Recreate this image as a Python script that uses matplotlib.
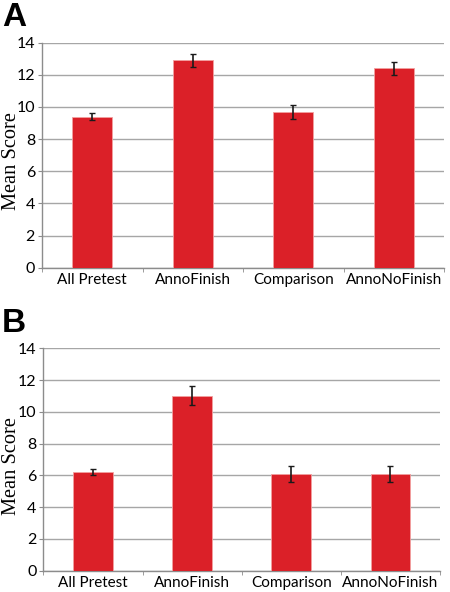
import matplotlib.pyplot as plt
import numpy as np

categories = ["All Pretest", "AnnoFinish", "Comparison", "AnnoNoFinish"]
means_a = [9.4, 12.9, 9.7, 12.4]
errs_a = [0.2, 0.4, 0.45, 0.4]
means_b = [6.2, 11.0, 6.1, 6.1]
errs_b = [0.2, 0.6, 0.5, 0.5]
yticks = [0, 2, 4, 6, 8, 10, 12, 14]

bar_color = "#db2028"
grid_color = "#a6a6a6"
axis_color = "#8c8c8c"

fig = plt.figure(figsize=(4.5, 5.92), dpi=100)


def draw_panel(rect, means, errs, letter, letter_y, ylabel_y):
    ax = fig.add_axes(rect)
    x = np.arange(len(categories))
    ax.bar(x, means, width=0.4, color=bar_color, edgecolor="#f2a0a0",
           linewidth=0.6, zorder=3)
    ax.errorbar(x, means, yerr=errs, fmt="none", ecolor="#1a1a1a",
                elinewidth=1.2, capsize=2.5, capthick=1.0, zorder=4)
    ax.set_xlim(-0.5, len(categories) - 0.5)
    ax.set_ylim(0, 14)
    ax.set_yticks(yticks)
    ax.set_xticks(x)
    ax.set_xticklabels(categories, family="Lato", fontsize=11)
    ax.tick_params(axis="x", length=0, pad=4)
    # boundary ticks under the axis
    ax.set_xticks(np.arange(-0.5, len(categories)), minor=True)
    ax.tick_params(axis="x", which="minor", length=3, color=axis_color)
    ax.tick_params(axis="y", length=3, color=axis_color, pad=2, labelsize=11.5)
    for lab in ax.get_yticklabels():
        lab.set_family("Lato")
    ax.grid(axis="y", color=grid_color, linewidth=1.0, zorder=0)
    for s in ["top", "right"]:
        ax.spines[s].set_visible(False)
    for s in ["left", "bottom"]:
        ax.spines[s].set_color(axis_color)
        ax.spines[s].set_linewidth(1.0)
    fig.text(0.025, ylabel_y, "Mean Score", rotation=90, family="Liberation Serif",
             fontsize=14.7, ha="center", va="center")
    fig.text(0.004, letter_y, letter, family="Liberation Sans", weight="bold",
             fontsize=24, ha="left", va="top")
    return ax


draw_panel([0.0933, 0.5478, 0.8937, 0.3801], means_a, errs_a, "A", 0.997, 1 - 161 / 592)
draw_panel([0.0963, 0.0360, 0.8815, 0.3757], means_b, errs_b, "B", 1 - 308 / 592, 1 - 466 / 592)

fig.savefig("out.png", dpi=100)
